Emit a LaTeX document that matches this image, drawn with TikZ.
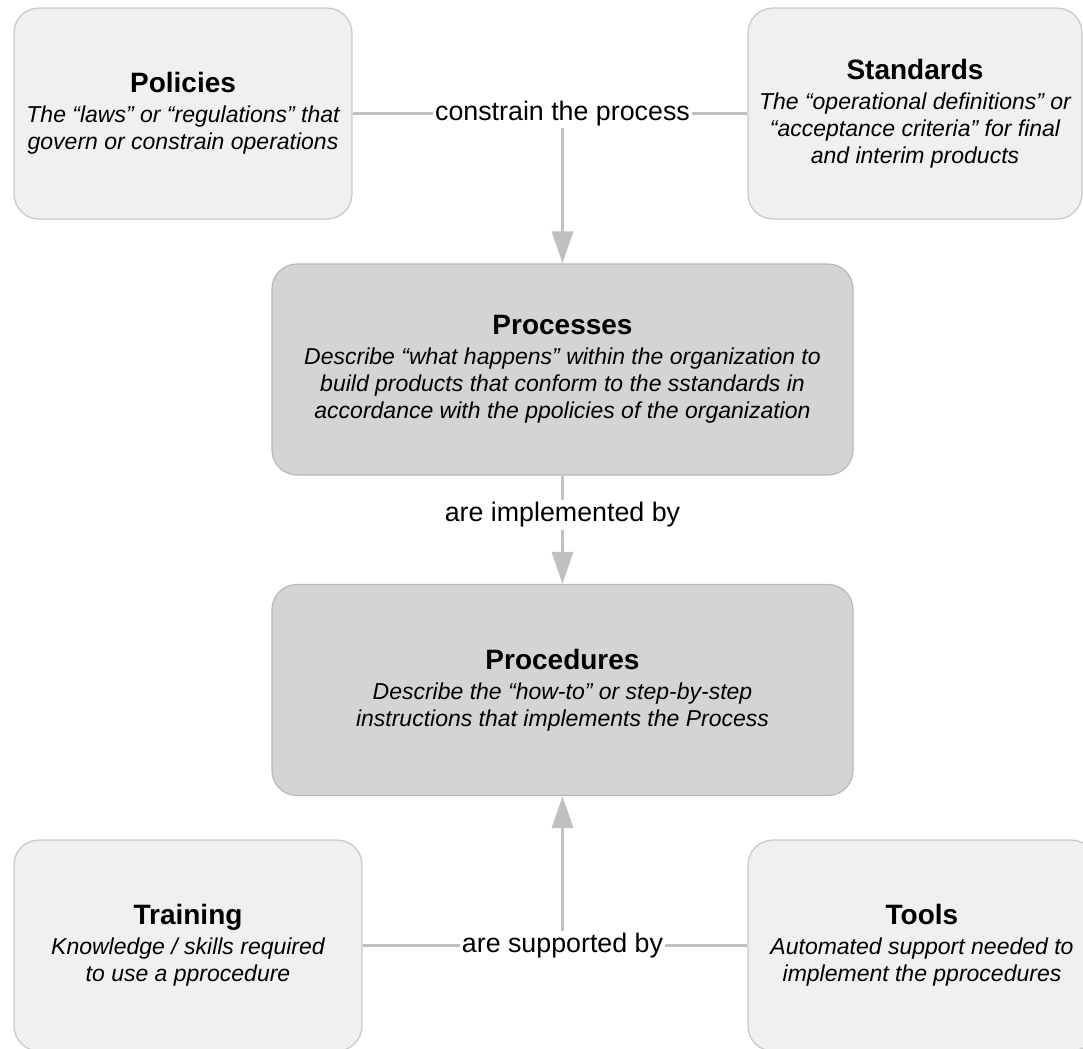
\documentclass[tikz,border=0pt]{standalone}
\usepackage{fontspec}
\setmainfont{Liberation Sans}
\usetikzlibrary{arrows.meta}
\definecolor{boxlight}{HTML}{F0F0F0}
\definecolor{boxdark}{HTML}{D4D4D4}
\definecolor{boxedge}{HTML}{C8C8C8}
\definecolor{linkgray}{HTML}{C0C0C0}
\tikzset{
  sidebox/.style={draw=boxedge, fill=boxlight, line width=0.6pt, rounded corners=12.5pt,
    minimum height=105.5pt, inner sep=0pt, align=center,
    font=\fontsize{11.5}{13.5}\selectfont\itshape},
  corebox/.style={sidebox, fill=boxdark, draw=boxedge!92!black},
  linklabel/.style={inner sep=1pt, font=\fontsize{13.4}{16}\selectfont},
  link/.style={draw=linkgray, line width=1.8pt},
  linkarrow/.style={link, -{Triangle[width=10.5pt,length=16pt]}}
}
\newcommand{\boxtitle}[1]{{\fontsize{14}{14}\selectfont\bfseries\upshape #1}\\[1.5pt]}
\begin{document}
\begin{tikzpicture}[x=0.5pt, y=-0.5pt]
	\useasboundingbox (0,0) rectangle (1083,1049);
	
	% Top row
	\node[sidebox, minimum width=169pt] (pol) at (183,113.5)
		{\boxtitle{Policies}The “laws” or “regulations” that\\govern or constrain operations};
	\node[sidebox, minimum width=167pt] (std) at (915,113.5)
		{\boxtitle{Standards}The “operational definitions” or\\“acceptance criteria” for final\\and interim products};
	
	% Middle column
	\node[corebox, minimum width=290.5pt] (proc) at (562.5,369.5)
		{\boxtitle{Processes}Describe “what happens” within the organization to\\build products that conform to the sstandards in\\accordance with the ppolicies of the organization};
	\node[corebox, minimum width=290.5pt] (prcd) at (562.5,690)
		{\boxtitle{Procedures}Describe the “how-to” or step-by-step\\instructions that implements the Process};
	
	% Bottom row
	\node[sidebox, minimum width=174pt] (trn) at (188,945.5)
		{\boxtitle{Training}Knowledge / skills required\\to use a pprocedure};
	\node[sidebox, minimum width=174pt] (tls) at (922,945.5)
		{\boxtitle{Tools}Automated support needed to\\implement the pprocedures};
	
	% Labels on the links
	\node[linklabel] (cons) at (562.5,113.5) {constrain the process};
	\node[linklabel] (impl) at (562.5,515) {are implemented by};
	\node[linklabel] (supp) at (562.5,945.5) {are supported by};
	
	% Links
	\draw[link] (pol) -- (cons);
	\draw[link] (cons) -- (std);
	\draw[linkarrow] (cons) -- (proc);
	\draw[link] (proc) -- (impl);
	\draw[linkarrow] (impl) -- (prcd);
	\draw[link] (trn) -- (supp);
	\draw[link] (supp) -- (tls);
	\draw[linkarrow] (supp) -- (prcd);
\end{tikzpicture}
\end{document}
